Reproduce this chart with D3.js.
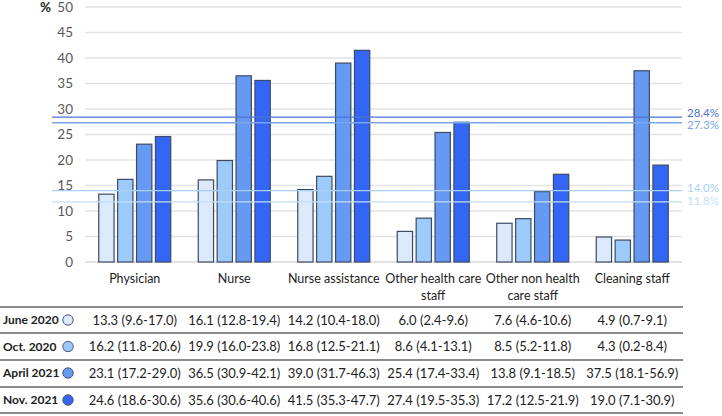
<!DOCTYPE html>
<html><head><meta charset="utf-8">
<script src="https://cdn.jsdelivr.net/npm/d3@7"></script>
<style>
body{margin:0;background:#fff;}
svg text{font-family:Lato,"Open Sans",sans-serif;}
</style></head>
<body><svg id="c" width="722" height="416"></svg>
<script>
const categories = ["Physician","Nurse","Nurse assistance","Other health care staff","Other non health care staff","Cleaning staff"];
const categoryLines = [["Physician"],["Nurse"],["Nurse assistance"],["Other health care","staff"],["Other non health","care staff"],["Cleaning staff"]];
const seriesNames = ["June 2020","Oct. 2020","April 2021","Nov. 2021"];
const june2020 = [13.3,16.1,14.2,6.0,7.6,4.9];
const oct2020 = [16.2,19.9,16.8,8.6,8.5,4.3];
const april2021 = [23.1,36.5,39.0,25.4,13.8,37.5];
const nov2021 = [24.6,35.6,41.5,27.4,17.2,19.0];
const june2020CI = ["9.6-17.0","12.8-19.4","10.4-18.0","2.4-9.6","4.6-10.6","0.7-9.1"];
const oct2020CI = ["11.8-20.6","16.0-23.8","12.5-21.1","4.1-13.1","5.2-11.8","0.2-8.4"];
const april2021CI = ["17.2-29.0","30.9-42.1","31.7-46.3","17.4-33.4","9.1-18.5","18.1-56.9"];
const nov2021CI = ["18.6-30.6","30.6-40.6","35.3-47.7","19.5-35.3","12.5-21.9","7.1-30.9"];
const refValues = [28.4,27.3,14.0,11.8];
const refLabels = ["28.4%","27.3%","14.0%","11.8%"];
const yTicks = [0,5,10,15,20,25,30,35,40,45,50];

const series = [june2020,oct2020,april2021,nov2021];
const cis = [june2020CI,oct2020CI,april2021CI,nov2021CI];
const colors = ["#dce9fa","#9ccbfa","#6699f2","#3366f5"];
const refColors = ["#4d74d6","#78a6ec","#a8d0f4","#c2def8"];
const refDy = [-4.5,2,-2.5,-0.5];

const svg = d3.select("#c");
const x0 = 85, x1 = 682, yTop = 7, yBot = 262;
const x = d3.scaleBand().domain(categories).range([x0,x1]);
const y = d3.scaleLinear().domain([0,50]).range([yBot,yTop]);
const xs = d3.scaleBand().domain(seriesNames).range([0,72]).paddingInner(0.19);

// grid
svg.append("g").selectAll("line").data(yTicks).join("line")
  .attr("x1",x0).attr("x2",x1).attr("y1",d=>y(d)).attr("y2",d=>y(d))
  .attr("stroke",d=>d===0?"#d9d9d9":"#e3e3e3").attr("stroke-width",1.5);
svg.append("g").selectAll("text").data(yTicks).join("text")
  .attr("x",73).attr("y",d=>y(d)).attr("dy","0.35em").attr("text-anchor","end")
  .attr("font-size",13.5).attr("fill","#595959").text(d=>d);
svg.append("text").attr("x",40).attr("y",y(50)).attr("dy","0.35em").attr("font-size",13.5)
  .attr("font-weight","bold").attr("fill","#222").text("%");

// bars
const g = svg.append("g");
series.forEach((s,i)=>{
  g.selectAll(null).data(s).join("rect")
   .attr("x",(d,j)=>x(categories[j]) + (x.bandwidth()-72)/2 + xs(seriesNames[i]))
   .attr("width",xs.bandwidth())
   .attr("y",d=>y(d)).attr("height",d=>yBot-y(d))
   .attr("fill",colors[i]).attr("stroke","#3d4a63").attr("stroke-width",1.2);
});

// reference lines
refValues.forEach((v,i)=>{
  svg.append("line").attr("x1",52).attr("x2",x1).attr("y1",y(v)).attr("y2",y(v))
    .attr("stroke",refColors[i]).attr("stroke-width",1.3);
  svg.append("text").attr("x",687).attr("y",y(v) + refDy[i]).attr("dy","0.35em")
    .attr("font-size",11.5).attr("fill",refColors[i]).text(refLabels[i]);
});

// category labels
categoryLines.forEach((lines,j)=>{
  const cx = x(categories[j])+x.bandwidth()/2;
  const t = svg.append("text").attr("x",cx).attr("y",283)
    .attr("text-anchor","middle").attr("font-size",12.5).attr("fill","#222");
  lines.forEach((l,k)=>t.append("tspan").attr("x",cx).attr("dy",k?17:0).text(l));
});

// table
const rowY = [320,346.5,373,400];
const lineY = [307,333,360,387,413];
svg.append("g").selectAll("line").data(lineY).join("line")
  .attr("x1",0).attr("x2",683).attr("y1",d=>d).attr("y2",d=>d)
  .attr("stroke","#8c8c8c").attr("stroke-width",1.8);
seriesNames.forEach((n,i)=>{
  svg.append("text").attr("x",3).attr("y",rowY[i]).attr("dy","0.35em")
    .attr("font-size",12).attr("font-weight","bold").attr("fill","#222").text(n);
  svg.append("circle").attr("cx",68).attr("cy",rowY[i]).attr("r",5.2)
    .attr("fill",colors[i]).attr("stroke","#4a5670").attr("stroke-width",1);
  series[i].forEach((v,j)=>{
    svg.append("text").attr("x",x(categories[j])+x.bandwidth()/2).attr("y",rowY[i]).attr("dy","0.35em")
      .attr("text-anchor","middle").attr("font-size",13).attr("fill","#222")
      .text(v.toFixed(1)+" ("+cis[i][j]+")");
  });
});
</script></body></html>
